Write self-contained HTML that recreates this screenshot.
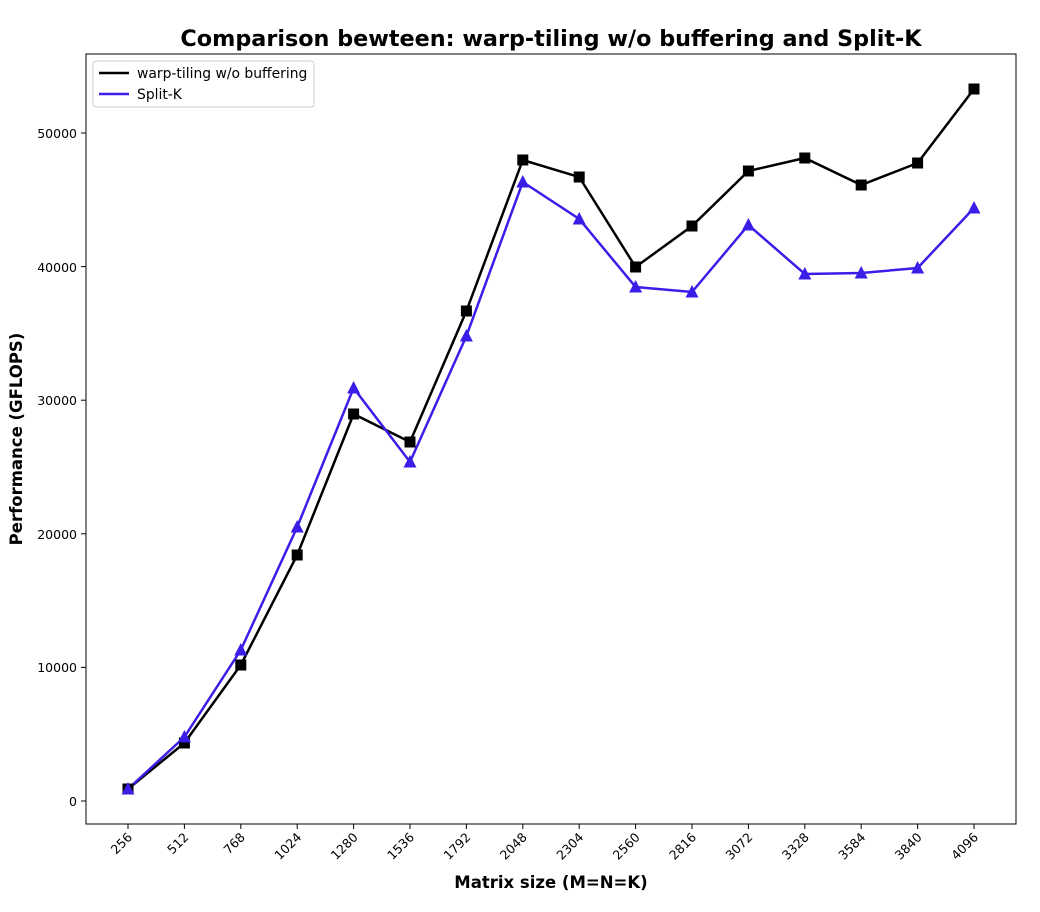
<!DOCTYPE html>
<html><head><meta charset="utf-8"><style>body{margin:0;background:#fff}svg{display:block}</style></head>
<body>
<svg width="1040" height="912" xmlns="http://www.w3.org/2000/svg" font-family="DejaVu Sans, Liberation Sans, sans-serif">
<rect width="1040" height="912" fill="#fff"/>
<text x="551" y="46" font-size="22.3" font-weight="bold" text-anchor="middle">Comparison bewteen: warp-tiling w/o buffering and Split-K</text>
<rect x="86" y="54" width="930" height="770" fill="none" stroke="#000" stroke-width="1"/>
<g font-size="12.5" text-anchor="end">
<line x1="81" x2="86" y1="801" y2="801" stroke="#000"/><text x="77" y="806">0</text>
<line x1="81" x2="86" y1="667.4" y2="667.4" stroke="#000"/><text x="77" y="672">10000</text>
<line x1="81" x2="86" y1="533.8" y2="533.8" stroke="#000"/><text x="77" y="539">20000</text>
<line x1="81" x2="86" y1="400.2" y2="400.2" stroke="#000"/><text x="77" y="405">30000</text>
<line x1="81" x2="86" y1="266.6" y2="266.6" stroke="#000"/><text x="77" y="272">40000</text>
<line x1="81" x2="86" y1="133" y2="133" stroke="#000"/><text x="77" y="138">50000</text>
</g>
<g id="xt" font-size="12.5" text-anchor="end"></g>
<text x="551" y="888" font-size="16.5" font-weight="bold" text-anchor="middle">Matrix size (M=N=K)</text>
<text transform="translate(22,439) rotate(-90)" font-size="16.5" font-weight="bold" text-anchor="middle">Performance (GFLOPS)</text>
<polyline id="bl" fill="none" stroke="#000" stroke-width="2.5"/>
<polyline id="bu" fill="none" stroke="#3a1ee8" stroke-width="2.5"/>
<g id="mk"></g>
<rect x="93" y="61" width="221" height="46" fill="#fff" stroke="#ccc" rx="3"/>
<line x1="99" x2="129" y1="73" y2="73" stroke="#000" stroke-width="2.5"/>
<text x="137" y="78" font-size="13.9">warp-tiling w/o buffering</text>
<line x1="99" x2="129" y1="94" y2="94" stroke="#3a1ee8" stroke-width="2.5"/>
<text x="137" y="99" font-size="13.9">Split-K</text>
<script>
var b=[789,743,665,555,414,442,311,160,177,267,226,171,158,185,163,89];
var u=[789,737,650,527,388,462,336,182,219,287,292,225,274,273,268,208];
var ns="http://www.w3.org/2000/svg",pb=[],pu=[],mk=document.getElementById('mk'),xt=document.getElementById('xt');
for(var i=0;i<16;i++){var x=128+i*56.4;pb.push(x+','+b[i]);pu.push(x+','+u[i]);
var r=document.createElementNS(ns,'rect');r.setAttribute('x',x-5.5);r.setAttribute('y',b[i]-5.5);r.setAttribute('width',11);r.setAttribute('height',11);mk.appendChild(r);
var t=document.createElementNS(ns,'line');t.setAttribute('x1',x);t.setAttribute('x2',x);t.setAttribute('y1',824);t.setAttribute('y2',829);t.setAttribute('stroke','#000');xt.appendChild(t);
var tx=document.createElementNS(ns,'text');tx.setAttribute('transform','translate('+(x+5)+',838) rotate(-45)');tx.textContent=256*(i+1);xt.appendChild(tx);}
for(var i=0;i<16;i++){var x=128+i*56.4;var p=document.createElementNS(ns,'polygon');p.setAttribute('points',x+','+(u[i]-7)+' '+(x-6.5)+','+(u[i]+5.5)+' '+(x+6.5)+','+(u[i]+5.5));p.setAttribute('fill','#3a1ee8');mk.appendChild(p);}
document.getElementById('bl').setAttribute('points',pb.join(' '));
document.getElementById('bu').setAttribute('points',pu.join(' '));
</script>
</svg>
</body></html>
